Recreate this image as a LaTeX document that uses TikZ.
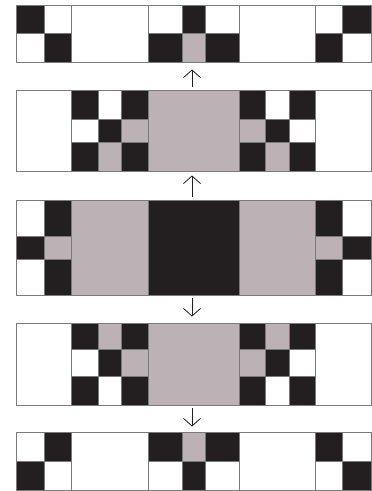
\documentclass[tikz,border=0pt]{standalone}
\usetikzlibrary{arrows.meta}
\definecolor{K}{HTML}{231F20}
\definecolor{G}{HTML}{BCB2B5}
\definecolor{W}{HTML}{FFFFFF}
\definecolor{edge}{HTML}{7A7A7C}
\tikzset{
  cellbox/.style={draw=edge,line width=0.8pt},
  flowarrow/.style={draw=K,line width=0.8pt,-{Straight Barb[length=7.5pt,width=17pt]}}
}
\newcommand\cellrow[3]{%
  \foreach \xa/\xb/\cc in {#3}{\filldraw[cellbox,fill=\cc] (\xa,#1) rectangle (\xb,#2);}}
\begin{document}
\begin{tikzpicture}[x=1pt,y=-1pt]
\useasboundingbox (0,0) rectangle (372,491);
% strip 1
\cellrow{5}{62.7}{71.3/148/W,239.3/315.7/W}
\cellrow{5}{33.8}{16/44.7/K,44.7/71.3/W,148/182/W,182/205.3/K,205.3/239.3/W,315.7/342.7/W,342.7/371/K}
\cellrow{33.8}{62.7}{16/44.7/W,44.7/71.3/K,148/182/K,182/205.3/G,205.3/239.3/K,315.7/342.7/K,342.7/371/W}
% strip 2
\cellrow{90.7}{171.7}{16/71.3/W,148.7/239/G,315.7/371/W}
\cellrow{90.7}{119}{71.3/98.3/K,98.3/121.7/W,121.7/148.7/K,239/265.7/K,265.7/289.3/W,289.3/315.7/K}
\cellrow{119}{142.7}{71.3/98.3/W,98.3/121.7/K,121.7/148.7/G,239/265.7/G,265.7/289.3/K,289.3/315.7/W}
\cellrow{142.7}{171.7}{71.3/98.3/K,98.3/121.7/G,121.7/148.7/K,239/265.7/K,265.7/289.3/G,289.3/315.7/K}
% strip 3
\cellrow{200}{295.7}{71.3/148/G,148/239.3/K,239.3/315.7/G}
\cellrow{200}{236}{16/44.7/W,44.7/71.3/K,315.7/342.7/K,342.7/371/W}
\cellrow{236}{259.3}{16/44.7/K,44.7/71.3/G,315.7/342.7/G,342.7/371/K}
\cellrow{259.3}{295.7}{16/44.7/W,44.7/71.3/K,315.7/342.7/K,342.7/371/W}
% strip 4
\cellrow{323.3}{405.7}{16/71.3/W,148.7/239/G,315.7/371/W}
\cellrow{323.3}{349.3}{71.3/98.3/K,98.3/121.7/G,121.7/148.7/K,239/265.7/K,265.7/289.3/G,289.3/315.7/K}
\cellrow{349.3}{376}{71.3/98.3/W,98.3/121.7/K,121.7/148.7/G,239/265.7/G,265.7/289.3/K,289.3/315.7/W}
\cellrow{376}{405.7}{71.3/98.3/K,98.3/121.7/W,121.7/148.7/K,239/265.7/K,265.7/289.3/W,289.3/315.7/K}
% strip 5
\cellrow{432.7}{490.5}{71.3/148/W,239.3/315.7/W}
\cellrow{432.7}{461.7}{16/44.7/W,44.7/71.3/K,148/182/K,182/205.3/G,205.3/239.3/K,315.7/342.7/K,342.7/371/W}
\cellrow{461.7}{490.5}{16/44.7/K,44.7/71.3/W,148/182/W,182/205.3/K,205.3/239.3/W,315.7/342.7/W,342.7/371/K}
% arrows
\coordinate (a1s) at (192,87);
\coordinate (a1e) at (192,69.5);
\coordinate (a2s) at (192,197);
\coordinate (a2e) at (192,175.5);
\coordinate (a3s) at (192,298);
\coordinate (a3e) at (192,316.5);
\coordinate (a4s) at (192,408);
\coordinate (a4e) at (192,426.5);
\draw[flowarrow] (a1s) -- (a1e);
\draw[flowarrow] (a2s) -- (a2e);
\draw[flowarrow] (a3s) -- (a3e);
\draw[flowarrow] (a4s) -- (a4e);
\end{tikzpicture}
\end{document}
